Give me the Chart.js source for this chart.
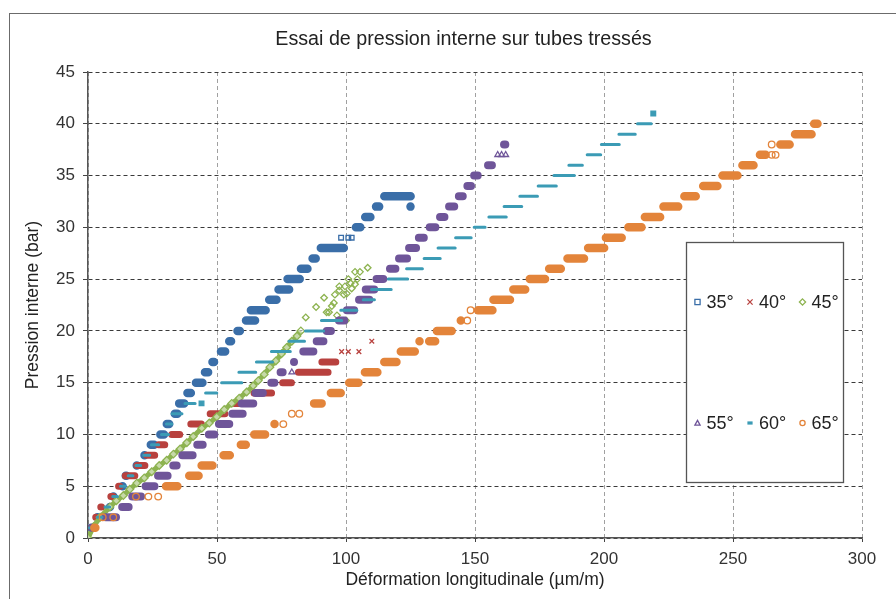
<!DOCTYPE html>
<html lang="fr">
<head>
<meta charset="utf-8">
<title>Essai de pression interne sur tubes tressés</title>
<script src="https://cdn.jsdelivr.net/npm/chart.js@4.4.0/dist/chart.umd.min.js"></script>
<style>
  html, body { margin: 0; padding: 0; background: #fff; overflow: hidden; }
  #wrap { width: 896px; height: 599px; }
</style>
</head>
<body>
<div id="wrap"><canvas id="pressionChart" width="896" height="599"></canvas></div>
<script>
// axes
const xTickValues = [0, 50, 100, 150, 200, 250, 300];
const yTickValues = [0, 5, 10, 15, 20, 25, 30, 35, 40, 45];
const seriesNames = ['35°', '40°', '45°', '55°', '60°', '65°'];
const chartTitle = 'Essai de pression interne sur tubes tressés';

const c35 = [
  [1, 0, 2.5], [2, 2.7, 4.7], [3, 7.8, 9.2], [4, 9.2, 10.5], [5, 11.8, 15], [6, 13, 16.5],
  [7, 17.6, 20.2], [8, 20.4, 23.4], [9, 22.7, 27.3], [10, 26.4, 31.1], [11, 28.9, 33.1],
  [12, 32, 36.3], [13, 33.7, 38.9], [14, 36.9, 41.5], [15, 40.2, 46], [16, 43.7, 48.2],
  [17, 46.6, 50.5], [18, 49.9, 54.8], [19, 53.1, 57.1], [20, 56.3, 60.5], [21, 59.6, 66.4],
  [22, 61.5, 70.5], [23, 68.6, 74.7], [24, 72.2, 79.6], [25, 75.7, 83.7], [26, 80.9, 86.7],
  [27, 85.4, 89.9], [28, 88.6, 100.8], [30, 102.2, 107.2], [31, 105.8, 111.1],
  [32, 110, 114.5], [32, 123.9, 126.1], [33, 113.2, 126.7]
];
const s35 = [[98.1, 29], [100.9, 29], [102.2, 29]];

const c40 = [
  [1, 0, 2.7], [2, 2, 4], [3, 3.6, 6.6], [4, 7.5, 11.1], [5, 10.5, 13.7], [6, 13.1, 19.5],
  [7, 17.6, 23.4], [8, 21.4, 27.2], [9, 26, 31.1], [10, 31.1, 36.9], [11, 38.5, 45.3],
  [12, 46, 54.4], [13, 55.4, 60.5], [14, 63, 72.5], [15, 74.1, 80.2], [16, 80.2, 94.4],
  [17, 89.3, 97.4]
];
const s40 = [[0, 0], [98.3, 18], [100.9, 18], [105, 18], [110, 19]];

const band45 = [
  [0, 0], [2.1, 1.1], [4.7, 2], [8.5, 3], [11, 3.6], [13.7, 4.1], [16.2, 4.7], [18.9, 5.3],
  [21.8, 5.8], [24.7, 6.4], [27.6, 7], [30.5, 7.5], [33.1, 8.1], [35.7, 8.6], [38.3, 9.2],
  [40.8, 9.8], [44.1, 10.6], [47, 11.1], [49.9, 11.7], [52.8, 12.4], [55.7, 13], [58.6, 13.5],
  [61.5, 14.1], [64, 14.7], [66, 15.2], [68.3, 15.8], [70.5, 16.5], [72.8, 17.1], [75, 17.8],
  [77, 18.4], [79, 19], [81, 19.5], [82.5, 20]
];
const s45 = [
  [84.4, 21.3], [88.4, 22.3], [91.5, 23.2], [92.5, 21.8], [93.4, 21.8], [94.5, 22.4],
  [95.3, 22.7], [95.7, 23.5], [97.4, 24.3], [97.4, 23.9], [99.2, 23.5], [99.6, 24.3],
  [100.3, 23.6], [100.9, 25], [101.8, 24.6], [102.2, 24.1], [103.5, 24.5], [103.5, 25.7],
  [105.4, 25.7], [104.4, 25], [108.4, 26.1], [100, 21], [96.5, 21.5]
];

const c55 = [
  [1, 0, 3.4], [2, 5.3, 12.4], [3, 11.7, 17.3], [4, 15.6, 22.1], [5, 20.8, 27.3],
  [6, 25.6, 32.4], [7, 31.5, 35.9], [8, 35, 42.1], [9, 40.8, 46], [10, 45.3, 50.5],
  [11, 49.2, 56.3], [12, 54.4, 61.5], [13, 58, 65.6], [14, 63.4, 69.3], [15, 69.5, 73.8],
  [16, 73.1, 77], [17, 78.3, 81.5], [18, 81.9, 88.9], [19, 87.1, 92.8], [20, 91, 95.7],
  [21, 95.7, 100.9], [22, 98.8, 104.7], [23, 103.5, 110.6], [24, 106.1, 112.5],
  [25, 110.3, 116], [26, 115.5, 120.7], [27, 119, 125.2], [28, 122.9, 128.7],
  [29, 126.7, 131.7], [30, 130.9, 136.2], [31, 134.9, 139.7], [32, 138.4, 143.5],
  [33, 142.2, 146.8], [34, 145.5, 150], [35, 148.1, 152.6], [36, 153.5, 158.1],
  [38, 159.7, 163.3]
];
const s55 = [[79, 16], [158.8, 37], [160.3, 37], [161.9, 37]];

const c60 = [
  [1, 0, 2.5], [2, 3, 6], [3, 6, 9], [4, 9, 12], [5, 12, 15], [6, 15, 18], [7, 18, 21],
  [8, 21, 24.5], [9, 24, 28], [10, 27.9, 31.8], [11, 29.8, 33.1], [12, 32, 37],
  [13, 37, 42.1], [14, 45, 50.5], [15, 51.2, 60.2], [16, 57.9, 65.6], [17, 64.7, 72.1],
  [18, 70.5, 79], [19, 77.3, 84.5], [20, 83.7, 91.9], [21, 89.9, 98.9], [22, 97.4, 104.8],
  [23, 106.1, 111.6], [24, 109.3, 118.1], [25, 115.8, 124.5], [26, 122.9, 130.2],
  [27, 129.7, 137.1], [28, 135.1, 142.9], [29, 141.9, 149.1], [30, 149.1, 154.5],
  [31, 154.8, 162.7], [32, 160.7, 168.7], [33, 166.8, 174.8], [34, 173.9, 182.1],
  [35, 180, 189.1], [36, 185.8, 192.2], [37, 192.9, 199.3], [38, 198.4, 206.5],
  [39, 205.2, 212.7], [40, 212.4, 218.9]
];
const s60 = [[44, 13], [219.1, 41]];

const c65 = [
  [1, 0.8, 4.5], [5, 28.6, 36.3], [6, 37.6, 44.5], [7, 42.4, 49.9], [8, 50.9, 56.6],
  [9, 57.6, 62.8], [10, 62.8, 70.3], [11, 70.8, 73.8], [13, 86, 92.2], [14, 92.5, 99.6],
  [15, 99.6, 106.5], [16, 105.7, 113.8], [17, 113.2, 121.2], [18, 119.6, 128.3],
  [19, 127, 130], [19, 130.6, 136.2], [20, 133.6, 142.6], [21, 142.9, 146.1],
  [22, 149.5, 158.4], [23, 155.5, 165.2], [24, 163.2, 171.1], [25, 169.6, 178.8],
  [26, 177.1, 184.9], [27, 184.2, 193.9], [28, 192.2, 201.7], [29, 199.1, 208.5],
  [30, 207.8, 216.2], [31, 214.2, 223.4], [32, 221.4, 230.4], [33, 229.5, 237.2],
  [34, 236.8, 245.6], [35, 244.3, 253.4], [36, 252, 259.6], [37, 258.8, 264.3],
  [38, 266.7, 273.6], [39, 272.4, 282.1], [40, 279.8, 284.4]
];
const s65 = [
  [5.7, 2], [9.8, 2], [18.6, 4], [23.4, 4], [27.2, 4], [75.7, 11], [79, 12], [81.9, 12],
  [147, 21], [148.3, 22], [265, 38], [265, 37], [266.5, 37]
];

const colors = ['#3a6ea8', '#b8413e', '#8db350', '#6f5599', '#3b9bb5', '#e3843a'];
const markers = ['rect', 'crossRot', 'rectRot', 'triangle', 'dash', 'circle'];
const FONT = '"Liberation Sans", Arial, sans-serif';
const UNIT_PX = 2.58; // pixels par µm/m, pour reculer les bouts arrondis

function plateau(clusters, width) {
  const inset = width / 2 / UNIT_PX;
  const pts = [];
  clusters.forEach(([p, x0, x1]) => {
    let a = x0 + inset, b = x1 - inset;
    if (b < a) { a = b = (x0 + x1) / 2; }
    pts.push({ x: a, y: p }, { x: b, y: p }, { x: b, y: null });
  });
  return pts;
}
const toXY = arr => arr.map(([x, y]) => ({ x: x, y: y }));

function plateauSet(i, clusters, width) {
  return {
    label: seriesNames[i],
    data: plateau(clusters, width),
    showLine: true,
    spanGaps: false,
    borderColor: colors[i],
    borderWidth: width,
    borderCapStyle: 'round',
    pointRadius: 0,
    order: 6 - i
  };
}
function singleSet(i, pts, style, filled) {
  return {
    label: seriesNames[i] + ' pts',
    data: toXY(pts),
    pointStyle: style,
    pointRadius: 3.3,
    borderWidth: 1.3,
    borderColor: colors[i],
    backgroundColor: filled ? colors[i] : 'rgba(255,255,255,0)',
    order: 6 - i
  };
}

const datasets = [
  plateauSet(0, c35, 8.5), singleSet(0, s35, 'rect'),
  plateauSet(1, c40, 7), singleSet(1, s40, 'crossRot'),
  {
    label: '45°', data: toXY(band45), showLine: true, borderColor: colors[2], borderWidth: 5,
    pointStyle: 'rectRot', pointRadius: 3.8, borderJoinStyle: 'round',
    pointBorderColor: colors[2], pointBorderWidth: 1.3,
    pointBackgroundColor: 'rgba(255,255,255,0.5)', order: 4
  },
  singleSet(2, s45, 'rectRot'),
  plateauSet(3, c55, 8), singleSet(3, s55, 'triangle'),
  plateauSet(4, c60, 3), singleSet(4, s60, 'rect', true),
  plateauSet(5, c65, 8.5), singleSet(5, s65, 'circle')
];

function drawMarker(c, style, x, y, color, r) {
  c.save();
  c.strokeStyle = color; c.fillStyle = color; c.lineWidth = 1.3;
  c.beginPath();
  if (style === 'rect') {
    c.rect(x - r, y - r, 2 * r, 2 * r); c.stroke();
  } else if (style === 'crossRot') {
    c.moveTo(x - r, y - r); c.lineTo(x + r, y + r);
    c.moveTo(x + r, y - r); c.lineTo(x - r, y + r); c.stroke();
  } else if (style === 'rectRot') {
    c.moveTo(x, y - r - 0.5); c.lineTo(x + r + 0.5, y); c.lineTo(x, y + r + 0.5); c.lineTo(x - r - 0.5, y);
    c.closePath(); c.stroke();
  } else if (style === 'triangle') {
    c.moveTo(x, y - r); c.lineTo(x + r, y + r * 0.8); c.lineTo(x - r, y + r * 0.8);
    c.closePath(); c.stroke();
  } else if (style === 'dash') {
    c.fillRect(x - r, y - 1.6, 2 * r, 3.2);
  } else {
    c.arc(x, y, r, 0, Math.PI * 2); c.stroke();
  }
  c.restore();
}

// white page, outer frame and the title (drawn here so it can sit off-centre like the original)
const frame = {
  id: 'frame',
  beforeDraw(chart) {
    const c = chart.ctx;
    c.save();
    c.fillStyle = '#fff';
    c.fillRect(0, 0, chart.width, chart.height);
    c.strokeStyle = '#6b6b6b';
    c.lineWidth = 1;
    c.strokeRect(9.5, 13.5, chart.width, chart.height);
    c.fillStyle = '#222';
    c.font = '19.7px ' + FONT;
    c.textAlign = 'center';
    c.textBaseline = 'middle';
    c.fillText(chartTitle, 463.5, 40);
    c.restore();
  }
};

const legendBox = {
  id: 'legendBox',
  afterDraw(chart) {
    const a = chart.chartArea, c = chart.ctx;
    const bx = a.right - 176, by = a.top + 170, bw = 157, bh = 240;
    c.save();
    c.fillStyle = '#fff';
    c.fillRect(bx, by, bw, bh);
    c.strokeStyle = '#555';
    c.lineWidth = 1.3;
    c.strokeRect(bx + 0.5, by + 0.5, bw, bh);
    c.font = '18px ' + FONT;
    c.textBaseline = 'middle';
    seriesNames.forEach((name, i) => {
      const col = i % 3, row = Math.floor(i / 3);
      const mx = bx + 11.5 + col * 52.5, my = by + 60 + row * 121;
      drawMarker(c, markers[i], mx, my, colors[i], 2.6);
      c.fillStyle = '#222';
      c.fillText(name, mx + 9, my + 1);
    });
    c.restore();
  }
};

const ctx = document.getElementById('pressionChart').getContext('2d');
new Chart(ctx, {
  type: 'scatter',
  data: { datasets: datasets },
  plugins: [frame, legendBox],
  options: {
    responsive: false,
    animation: false,
    events: [],
    layout: { padding: { top: 72, right: 34, bottom: 0, left: 0 } },
    plugins: {
      legend: { display: false },
      tooltip: { enabled: false },
      title: { display: false }
    },
    scales: {
      x: {
        type: 'linear',
        min: 0, max: 300,
        afterBuildTicks: s => { s.ticks = xTickValues.map(v => ({ value: v })); },
        afterFit: s => { s.height = 61; },
        ticks: { color: '#333', font: { family: FONT, size: 17 }, padding: 7 },
        grid: { color: '#a0a0a0', lineWidth: 1, tickLength: 4, tickColor: '#444', tickBorderDash: [] },
        border: { display: true, color: '#555', width: 1.5, dash: [4, 3] },
        title: {
          display: true, text: 'Déformation longitudinale (µm/m)', color: '#222',
          font: { family: FONT, size: 17.5 }, padding: { top: 0, bottom: 8 }
        }
      },
      y: {
        type: 'linear',
        min: 0, max: 45,
        afterBuildTicks: s => { s.ticks = yTickValues.map(v => ({ value: v })); },
        afterFit: s => { s.width = 88; },
        ticks: { color: '#333', font: { family: FONT, size: 17 }, padding: 8 },
        grid: { color: '#3a3a3a', lineWidth: 1, tickLength: 5, tickColor: '#444', tickBorderDash: [] },
        border: { display: true, color: '#555', width: 1.5, dash: [4, 3] },
        title: {
          display: true, text: 'Pression interne (bar)', color: '#222',
          font: { family: FONT, size: 17.5 }, padding: { top: 23, bottom: 0 }
        }
      }
    }
  }
});
</script>
</body>
</html>
